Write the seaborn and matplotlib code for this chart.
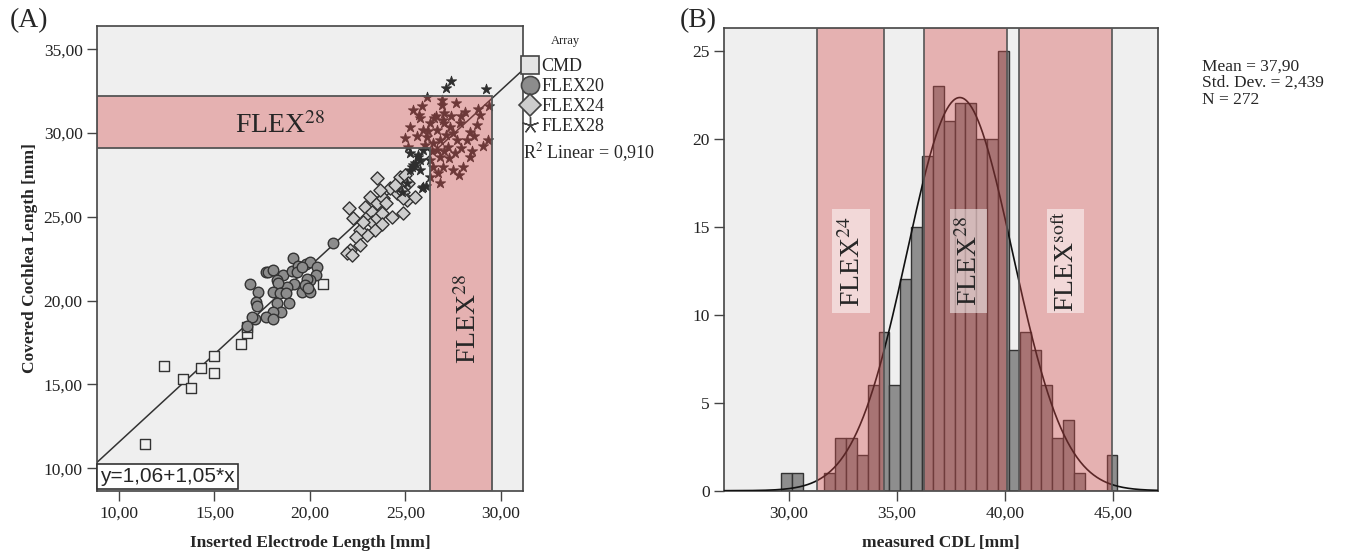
import matplotlib
matplotlib.use("Agg")
import matplotlib.pyplot as plt
import numpy as np
import pandas as pd
import seaborn as sns
from matplotlib.lines import Line2D
from matplotlib.patches import Polygon, Rectangle
from matplotlib.ticker import FuncFormatter

# ---------------- data: panel (A) ----------------
cmd_x = [11.36, 12.36, 13.37, 13.77, 14.28, 14.97, 14.97, 16.39, 16.69, 16.69, 20.66]
cmd_y = [11.43, 16.10, 15.31, 14.81, 16.00, 16.70, 15.70, 17.40, 18.09, 18.41, 21.01]

flex20_x = [16.88, 17.29, 17.16, 17.24, 17.68, 17.82, 18.08, 18.60, 19.09, 19.06, 19.39, 19.30,
            19.77, 20.00, 20.38, 20.30, 20.00, 19.83, 19.60, 20.00, 19.83, 19.16, 18.78, 18.25,
            18.34, 18.08, 18.43, 18.73, 18.29, 18.90, 18.48, 18.05, 17.70, 18.08, 17.12, 16.98,
            16.68, 21.22, 19.56, 19.74, 19.91]
flex20_y = [21.01, 20.50, 19.92, 19.68, 21.69, 21.69, 21.81, 21.53, 22.53, 21.79, 22.07, 21.69,
            22.17, 22.33, 22.03, 21.53, 21.24, 21.27, 20.50, 20.50, 20.84, 21.02, 20.84, 21.24,
            21.04, 20.54, 20.48, 20.44, 19.84, 19.84, 19.35, 19.35, 19.05, 18.91, 18.89, 19.05,
            18.49, 23.46, 22.03, 20.94, 20.74]

flex24_x = [23.49, 22.06, 22.27, 22.88, 22.97, 23.23, 23.23, 23.49, 23.49, 23.75, 23.84, 23.98,
            23.40, 23.75, 22.97, 22.62, 22.41, 22.62, 22.09, 21.92, 22.18, 24.54, 24.71, 24.97,
            24.89, 25.06, 24.89, 25.50, 24.85, 24.19, 24.45, 25.15, 23.14, 22.79, 24.28, 23.66]
flex24_y = [27.30, 25.51, 24.92, 25.61, 25.01, 25.31, 24.72, 25.81, 24.91, 25.21, 26.11, 25.81,
            24.22, 24.58, 23.92, 24.22, 23.78, 23.32, 23.03, 22.83, 22.73, 26.41, 27.40, 27.50,
            26.50, 26.01, 26.11, 26.21, 25.21, 26.70, 26.90, 27.00, 26.21, 24.72, 25.01, 26.60]

flex28_x = [27.38, 27.12, 29.21, 26.11, 25.41, 25.85, 26.89, 27.64, 28.11, 28.81, 28.90, 29.34,
            29.07, 28.38, 28.03, 27.50, 26.81, 25.93, 24.97, 25.15, 25.24, 25.76, 26.28, 26.63,
            26.98, 27.33, 27.85, 28.38, 27.68, 27.24, 26.81, 26.46, 26.98, 26.28, 26.11, 26.46,
            25.93, 25.67, 25.50, 25.32, 28.73, 28.20, 27.59, 26.63, 26.28, 25.76, 25.24, 25.85,
            26.07, 25.24, 25.41, 25.76, 25.67, 24.80, 25.10, 27.00, 26.60, 27.40, 27.90, 26.20,
            26.80, 27.10, 27.50, 27.00, 26.50, 25.90, 25.60, 26.00, 26.40, 27.00, 27.30, 26.70,
            27.80, 28.50, 27.90, 28.60, 29.40, 26.90, 25.70]
flex28_y = [33.13, 32.67, 32.61, 32.17, 31.38, 31.62, 31.68, 31.78, 31.28, 31.42, 31.08, 29.59,
            29.23, 28.59, 28.00, 27.80, 27.00, 26.80, 29.69, 29.19, 30.38, 30.88, 30.58, 30.19,
            30.78, 30.38, 30.58, 30.09, 29.59, 29.19, 28.59, 28.00, 28.00, 27.40, 29.79, 29.39,
            28.99, 28.59, 28.20, 28.00, 30.48, 29.59, 28.79, 28.99, 28.40, 27.80, 28.79, 26.70,
            26.84, 27.80, 28.10, 28.40, 28.69, 26.50, 27.00, 31.20, 31.00, 31.00, 31.00, 30.10,
            29.60, 29.90, 30.00, 30.60, 30.90, 30.20, 29.80, 29.30, 28.90, 28.90, 28.50, 27.60,
            27.50, 28.90, 29.10, 29.80, 31.60, 32.00, 31.10]

fit_intercept = 1.06
fit_slope = 1.05

# FLEX28 range marked in (A)
band_a_y = (29.13, 32.23)
band_a_x = (26.28, 29.51)

# ---------------- data: panel (B) ----------------
hist_first_edge = 29.63
hist_bin_width = 0.502
hist_counts = [1, 1, 0, 0, 1, 3, 3, 2, 6, 9, 6, 12, 15, 19, 23, 21, 22, 22, 20, 20,
               25, 8, 9, 8, 6, 3, 4, 1, 0, 0, 2]
cdl_mean = 37.90
cdl_sd = 2.439
cdl_n = 272

band_names = ["FLEX$^{24}$", "FLEX$^{28}$", "FLEX$^{\\rm soft}$"]
band_ranges = [(31.28, 34.39), (36.26, 40.07), (40.64, 44.92)]
label_box_x = [(32.00, 33.74), (37.46, 39.16), (41.92, 43.65)]
label_box_y = (10.07, 16.0)

# ---------------- style ----------------
sns.set_theme(style="white")
plt.rcParams['font.family'] = ['Liberation Serif', 'DejaVu Serif']
plt.rcParams['mathtext.fontset'] = 'stix'

BG = '#efefef'
SPINE = '#444444'
BAND = (0.835, 0.294, 0.294, 0.375)
comma = FuncFormatter(lambda v, p: f"{v:.2f}".replace('.', ','))

fig = plt.figure(figsize=(13.45, 5.54), dpi=100)
axA = fig.add_axes([0.0723, 0.1143, 0.3163, 0.8388])
axB = fig.add_axes([0.5385, 0.1143, 0.3222, 0.8347])

for ax in (axA, axB):
    ax.set_facecolor(BG)
    for sp in ax.spines.values():
        sp.set_color(SPINE)
        sp.set_linewidth(1.2)
    ax.tick_params(direction='out', length=7, width=1, color=SPINE,
                   labelsize=12.5, labelcolor='#222222', bottom=True, left=True)

# ---------------- panel (A) ----------------
axA.set_xlim(8.86, 31.14)
axA.set_ylim(8.66, 36.39)

xs = np.array(axA.get_xlim())
axA.plot(xs, fit_intercept + fit_slope * xs, color='#333333', lw=1.1, zorder=2)

sns.scatterplot(x=cmd_x, y=cmd_y, marker='s', s=42, color=BG, edgecolor='#333333',
                linewidth=1.0, ax=axA, zorder=3)
sns.scatterplot(x=flex20_x, y=flex20_y, marker='o', s=58, color='#8c8c8c', edgecolor='#333333',
                linewidth=1.0, ax=axA, zorder=3)
sns.scatterplot(x=flex24_x, y=flex24_y, marker='D', s=45, color='#cdcdcd', edgecolor='#333333',
                linewidth=1.0, ax=axA, zorder=3)
sns.scatterplot(x=flex28_x, y=flex28_y, marker='*', s=60, color='#2e2e2e', edgecolor='#2e2e2e',
                linewidth=0.6, ax=axA, zorder=3)

x0 = axA.get_xlim()[0]
y0 = axA.get_ylim()[0]
lshape = [(x0, band_a_y[1]), (band_a_x[1], band_a_y[1]), (band_a_x[1], y0),
          (band_a_x[0], y0), (band_a_x[0], band_a_y[0]), (x0, band_a_y[0])]
axA.add_patch(Polygon(lshape, closed=True, facecolor=BAND, edgecolor='#555555', lw=1.3, zorder=4))

axA.text(18.43, 30.45, "FLEX$^{28}$", fontsize=20, ha='center', va='center', zorder=6)
axA.text(28.3, 18.9, "FLEX$^{28}$", fontsize=20, ha='center', va='center', rotation=90, zorder=6)

axA.text(0.007, 0.01, "y=1,06+1,05*x", transform=axA.transAxes, ha='left', va='bottom',
         fontsize=15, family=['Liberation Sans', 'DejaVu Sans'], zorder=7,
         bbox=dict(boxstyle='square,pad=0.15', fc='white', ec='#333333', lw=1.2))

axA.set_xticks([10, 15, 20, 25, 30])
axA.set_yticks([10, 15, 20, 25, 30, 35])
axA.xaxis.set_major_formatter(comma)
axA.yaxis.set_major_formatter(comma)
axA.set_xlabel("Inserted Electrode Length [mm]", fontsize=12.5, fontweight='bold', labelpad=10)
axA.set_ylabel("Covered Cochlea Length [mm]", fontsize=12.5, fontweight='bold', labelpad=4)

handles = [
    Line2D([], [], ls='none', marker='s', ms=13, mfc='#e4e4e4', mec='#444444', mew=1.2),
    Line2D([], [], ls='none', marker='o', ms=13, mfc='#8c8c8c', mec='#444444', mew=1.2),
    Line2D([], [], ls='none', marker='D', ms=11.5, mfc='#cdcdcd', mec='#444444', mew=1.2),
    Line2D([], [], ls='none', marker=(5, 2, 0), ms=12, mfc='#444444', mec='#444444', mew=1.0),
]
axA.legend(handles, ["CMD", "FLEX20", "FLEX24", "FLEX28"],
           loc='upper left', bbox_to_anchor=(0.995, 0.931), frameon=False,
           fontsize=13, handletextpad=0.15, handlelength=1.0,
           labelspacing=0.17, borderaxespad=0, borderpad=0)
axA.text(1.1, 0.968, "Array", transform=axA.transAxes, fontsize=9, ha='center', va='center')
axA.text(1.0, 0.727, "R$^2$ Linear = 0,910", transform=axA.transAxes, fontsize=13,
         ha='left', va='center')

fig.text(0.0074, 0.962, "(A)", fontsize=20, ha='left', va='center')

# ---------------- panel (B) ----------------
edges = hist_first_edge + hist_bin_width * np.arange(len(hist_counts) + 1)
hist_df = pd.DataFrame({'cdl': (edges[:-1] + edges[1:]) / 2, 'n': hist_counts})
sns.histplot(data=hist_df, x='cdl', weights='n', bins=list(edges), color='#8e8e8e', alpha=1,
             edgecolor='#333333', linewidth=1.0, ax=axB, zorder=2)

axB.set_xlim(27.01, 47.05)
axB.set_ylim(0, 26.27)
xc = np.linspace(27.01, 47.05, 400)
yc = cdl_n * hist_bin_width / (cdl_sd * np.sqrt(2 * np.pi)) * np.exp(-0.5 * ((xc - cdl_mean) / cdl_sd) ** 2)
axB.plot(xc, yc, color='#111111', lw=1.2, zorder=3)

for (lo, hi), name, (bx0, bx1) in zip(band_ranges, band_names, label_box_x):
    axB.axvspan(lo, hi, facecolor=BAND, edgecolor='#555555', lw=1.2, zorder=4)
    axB.add_patch(Rectangle((bx0, label_box_y[0]), bx1 - bx0, label_box_y[1] - label_box_y[0],
                            facecolor=(1, 1, 1, 0.5), edgecolor='none', zorder=5))
    axB.text((bx0 + bx1) / 2 + 0.05, sum(label_box_y) / 2, name, fontsize=20, rotation=90,
             ha='center', va='center', zorder=6)

axB.set_xticks([30, 35, 40, 45])
axB.set_yticks([0, 5, 10, 15, 20, 25])
axB.xaxis.set_major_formatter(comma)
axB.set_xlabel("measured CDL [mm]", fontsize=12.5, fontweight='bold', labelpad=10)
axB.set_ylabel("")

fig.text(0.8935, 0.895, "Mean = 37,90\nStd. Dev. = 2,439\nN = 272", fontsize=12.5,
         ha='left', va='top', linespacing=1.08)
fig.text(0.5056, 0.962, "(B)", fontsize=20, ha='left', va='center')

fig.savefig("out.png", dpi=100, facecolor='white')
